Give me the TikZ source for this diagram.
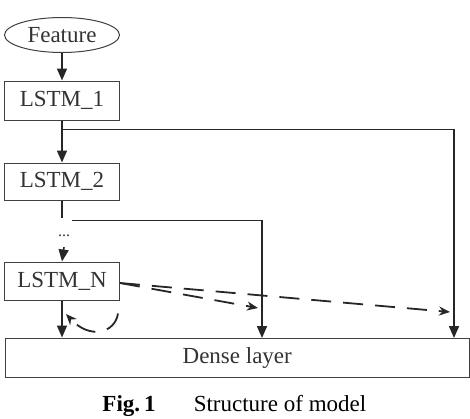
\documentclass[tikz,border=0pt]{standalone}
\usepackage{fontspec}
\setmainfont{Liberation Serif}
\usetikzlibrary{shapes.geometric,arrows.meta}

\begin{document}
\begin{tikzpicture}[x=1pt,y=-1pt,
  box/.style={draw=black!75, line width=1pt, minimum width=115pt, inner sep=0pt, font=\fontsize{23}{27}\selectfont, text=black!80},
  conn/.style={draw=black!85, line width=1.6pt},
  arr/.style={conn, -{Triangle[length=12pt,width=10pt]}},
  dsh/.style={draw=black!85, line width=1.8pt, dash pattern=on 20pt off 12pt, -{Stealth[length=11pt,width=9pt]}}]
\useasboundingbox (0,0) rectangle (470,418);

% layers
\node[box, ellipse, minimum height=35pt] (feat) at (62,35) {Feature};
\node[box, minimum height=39pt] (lstm1) at (62,100.5) {LSTM\_1};
\node[box, minimum height=37pt] (lstm2) at (62,181.5) {LSTM\_2};
\node[box, minimum height=38pt] (lstmN) at (62,281) {LSTM\_N};
\node[box, minimum width=464.5pt, minimum height=39pt] (dense) at (237.25,357.5) {Dense layer};
\node[font=\fontsize{16}{18}\selectfont, text=black!80, inner sep=0pt] (dots) at (64,236) {...};

% taps on the dense layer
\coordinate (d1) at (454,338);
\coordinate (d2) at (262,338);

\draw[arr] (feat) -- (lstm1);
\draw[arr] (lstm1) -- (lstm2);
\draw[arr] (lstm1.south) ++(0,9) -| (d1);
\draw[conn] (lstm2.south) -- ++(0,17);
\draw[arr] ([shift={(10,20)}]lstm2.south) -| (d2);
\draw[arr] ([shift={(0,10)}]dots.south) -- (lstmN.north);
\draw[arr] (lstmN) -- (dense.north -| lstmN.south);

% dashed
\draw[dsh] ([shift={(0,2)}]lstmN.east) -- ([shift={(-4,-30)}]d2);
\draw[dsh] ([shift={(0,2)}]lstmN.east) -- ([shift={(-4,-26)}]d1);
\draw[dsh] ([shift={(-2,13)}]lstmN.south east) .. controls (115,333) and (90,340) .. (66,314);

% caption
\node[anchor=base, font=\fontsize{23}{27}\selectfont\bfseries, inner sep=0pt] (fig) at (129,411) {Fig.\,1};
\node[anchor=base, font=\fontsize{23}{27}\selectfont, inner sep=0pt] (cap) at (280,411) {Structure of model};
\end{tikzpicture}
\end{document}
